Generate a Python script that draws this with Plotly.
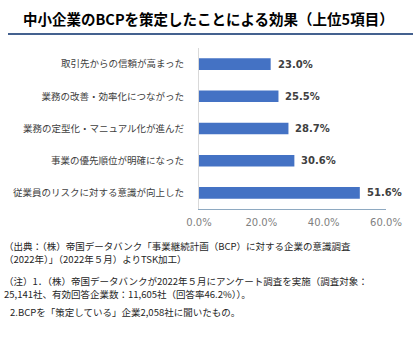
import plotly.graph_objects as go

categories = [
    "従業員のリスクに対する意識が向上した",
    "事業の優先順位が明確になった",
    "業務の定型化・マニュアル化が進んだ",
    "業務の改善・効率化につながった",
    "取引先からの信頼が高まった",
]
values = [51.6, 30.6, 28.7, 25.5, 23.0]
x_ticks = [0, 20, 40, 60]
x_tick_labels = ["0.0%", "20.0%", "40.0%", "60.0%"]

title_text = "中小企業のBCPを策定したことによる効果（上位5項目）"
footnotes = [
    "（出典：（株）帝国データバンク「事業継続計画（BCP）に対する企業の意識調査",
    "（2022年）」（2022年５月）よりTSK加工）",
    "（注）1．（株）帝国データバンクが2022年５月にアンケート調査を実施（調査対象：",
    "25,141社、有効回答企業数：11,605社（回答率46.2%））。",
    "2.BCPを「策定している」企業2,058社に聞いたもの。",
]
footnote_y = [246, 259, 281, 294, 312]
footnote_x = [2, 2, 2, 2, 8]

W, H = 420, 339
L, R = 199, 386
T, B = 48, 209


def px2x(px):
    return (px - L) / (R - L)


def px2y(py):
    return (B - py) / (B - T)


CJK = "Noto Sans CJK JP, sans-serif"

fig = go.Figure(
    go.Bar(
        x=values,
        y=categories,
        orientation="h",
        marker=dict(color="#4472C4", line=dict(width=0)),
        width=0.36,
        cliponaxis=False,
        hoverinfo="skip",
    )
)

fig.update_layout(
    width=W,
    height=H,
    margin=dict(l=L, r=W - R, t=T, b=H - B),
    paper_bgcolor="white",
    plot_bgcolor="white",
    showlegend=False,
    xaxis=dict(
        range=[0, 60],
        tickvals=x_ticks,
        ticktext=x_tick_labels,
        showgrid=False,
        zeroline=False,
        showline=True,
        linecolor="#8EA9C1",
        linewidth=1,
        ticks="",
        tickfont=dict(family="DejaVu Sans, Verdana, sans-serif", size=10, color="#7F7F7F"),
        ticklabelstandoff=4,
        fixedrange=True,
    ),
    yaxis=dict(
        categoryorder="array",
        categoryarray=categories,
        showgrid=False,
        zeroline=False,
        showline=True,
        linecolor="#D9D9D9",
        linewidth=1,
        ticks="",
        tickfont=dict(family=CJK, size=9.5, color="#404040"),
        ticklabelstandoff=12,
        fixedrange=True,
    ),
)

annotations = [
    dict(
        text=title_text,
        x=px2x(21), y=px2y(18),
        xref="paper", yref="paper",
        xanchor="left", yanchor="middle",
        showarrow=False,
        font=dict(family=CJK, size=14.5, color="#000000", weight="bold"),
    )
]
for cat, v in zip(categories, values):
    annotations.append(
        dict(
            text=f"{v:.1f}%",
            x=v, y=cat,
            xref="x", yref="y",
            xanchor="left", yanchor="middle",
            xshift=5,
            showarrow=False,
            font=dict(family="DejaVu Sans, Verdana, sans-serif", size=10, color="#404040", weight="bold"),
        )
    )
for txt, xx, yy in zip(footnotes, footnote_x, footnote_y):
    annotations.append(
        dict(
            text=txt,
            x=px2x(xx), y=px2y(yy),
            xref="paper", yref="paper",
            xanchor="left", yanchor="middle",
            showarrow=False,
            font=dict(family=CJK, size=9.5, color="#262626"),
        )
    )
fig.update_layout(annotations=annotations)

fig.add_shape(
    type="line",
    xref="paper", yref="paper",
    x0=px2x(8), x1=px2x(413),
    y0=px2y(34), y1=px2y(34),
    line=dict(color="#44618F", width=2),
)

fig.write_html("out.html")
